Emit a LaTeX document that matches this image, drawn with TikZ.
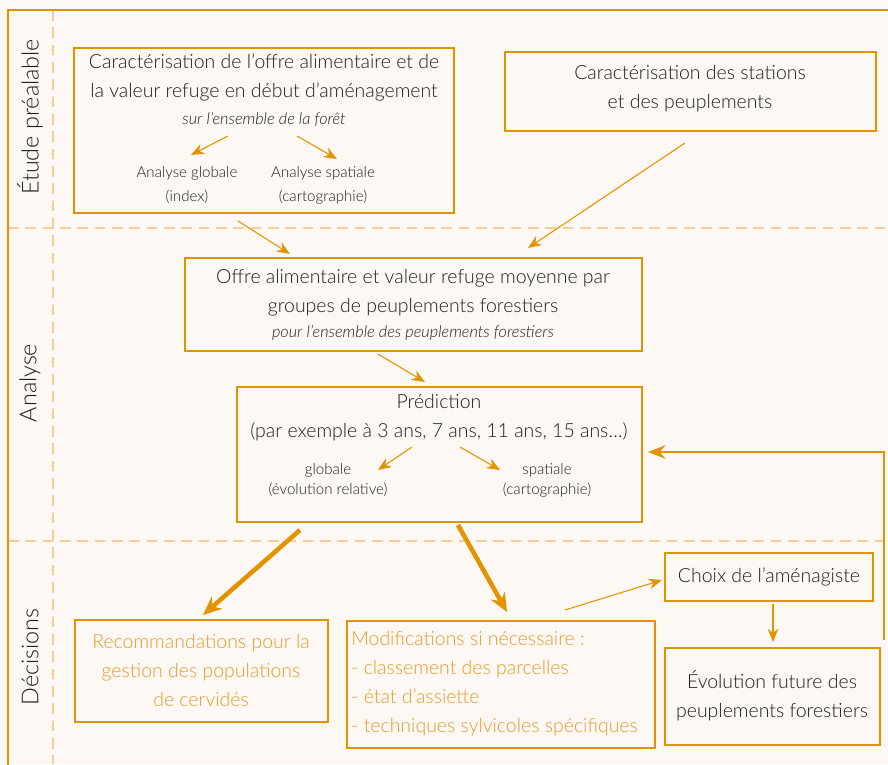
\documentclass[tikz,border=0pt]{standalone}
\usepackage{fontspec}
\setmainfont{Lato}[UprightFont=* Light, ItalicFont=* Light Italic]
\usetikzlibrary{arrows.meta}
\definecolor{bgc}{RGB}{253,248,244}
\definecolor{boxc}{RGB}{227,147,0}
\definecolor{dashc}{RGB}{246,205,150}
\definecolor{txtc}{RGB}{30,30,30}
\definecolor{otxt}{RGB}{230,155,40}
\tikzset{
  box/.style={draw=boxc, line width=2.2pt, inner sep=0pt},
  txt/.style={text=txtc, font=\fontsize{14.6}{21.75}\selectfont, align=center, inner sep=0pt},
  otext/.style={txt, text=otxt},
  smalltxt/.style={text=txtc, font=\fontsize{11.3}{18}\selectfont, align=center, inner sep=0pt},
  itxt/.style={text=txtc, font=\fontsize{12.2}{14}\selectfont\itshape, inner sep=0pt},
  rowlab/.style={text=txtc, font=\fontsize{17.5}{19}\selectfont, rotate=90, inner sep=0pt},
  sep/.style={draw=dashc, line width=2.2pt, dash pattern=on 8pt off 5pt},
  arr/.style={draw=boxc, line width=0.8pt, -{Stealth[length=10pt,width=8pt]}},
  bigarr/.style={draw=boxc, line width=3.4pt, -{Stealth[length=14pt,width=12pt]}},
}
\begin{document}
\begin{tikzpicture}[x=0.75pt,y=-0.75pt]
\fill[bgc] (0,0) rectangle (888,764);
\useasboundingbox (0,0) rectangle (888,764);
\begin{scope}
\clip (0,0) rectangle (888,764);
% frame and separators
\draw[sep] (53,10) -- (53,764);
\draw[sep] (8,228) -- (888,228);
\draw[sep] (8,541) -- (888,541);
\draw[draw=boxc, line width=2.2pt] (8,775) -- (8,10) -- (895,10);
\end{scope}

% row labels
\node[rowlab] (r1) at (30,117) {Étude préalable};
\node[rowlab] (r2) at (30,383) {Analyse};
\node[rowlab] (r3) at (30,657) {Décisions};

% Box A
\node[box, minimum width=380*0.75pt, minimum height=165*0.75pt] (A) at (264,130.5) {};
\node[txt] (Atxt) at (264,77.5) {Caractérisation de l’offre alimentaire et de\\la valeur refuge en début d’aménagement};
\node[itxt] (Ait) at (264,120) {sur l’ensemble de la forêt};
\node[smalltxt] (Ag) at (187,185) {Analyse globale\\(index)};
\node[smalltxt] (As) at (323,185) {Analyse spatiale\\(cartographie)};
\coordinate (Ag0) at (228,136); \coordinate (Ag1) at (191,155);
\coordinate (As0) at (297,136); \coordinate (As1) at (337,159);
\draw[arr] (Ag0) -- (Ag1);
\draw[arr] (As0) -- (As1);

% Box B
\node[box, minimum width=371*0.75pt, minimum height=79*0.75pt] (B) at (690.5,91.5) {};
\node[txt] (Btxt) at (690,89) {Caractérisation des stations\\et des peuplements};

% Box C
\node[box, minimum width=457*0.75pt, minimum height=93*0.75pt] (C) at (413.5,304.5) {};
\node[txt] (Ctxt) at (413,292.5) {Offre alimentaire et valeur refuge moyenne par\\groupes de peuplements forestiers};
\node[itxt] (Cit) at (413,333) {pour l’ensemble des peuplements forestiers};

% Box D
\node[box, minimum width=405*0.75pt, minimum height=135*0.75pt] (D) at (439.5,454.5) {};
\node[txt] (Dtxt) at (439,418) {Prédiction\\(par exemple à 3 ans, 7 ans, 11 ans, 15 ans…)};
\node[smalltxt, font=\fontsize{11.3}{15}\selectfont] (Dg) at (328,480) {globale\\(évolution relative)};
\node[smalltxt, font=\fontsize{11.3}{15}\selectfont] (Ds) at (547,480) {spatiale\\(cartographie)};
\coordinate (Dg0) at (412,447); \coordinate (Dg1) at (378,470);
\coordinate (Ds0) at (460,447); \coordinate (Ds1) at (500,470);
\draw[arr] (Dg0) -- (Dg1);
\draw[arr] (Ds0) -- (Ds1);

% Box E
\node[box, minimum width=253*0.75pt, minimum height=102*0.75pt] (E) at (201.5,671) {};
\node[otext] (Etxt) at (201,670.5) {Recommandations pour la\\gestion des populations\\de cervidés};

% Box F
\node[box, minimum width=308*0.75pt, minimum height=127*0.75pt] (F) at (501,684.5) {};
\node[otext, align=left, anchor=west] (Ftxt) at (351,683.5) {Modifications si nécessaire :\\- classement des parcelles\\- état d’assiette\\- techniques sylvicoles spécifiques};

% Box G
\node[box, minimum width=208*0.75pt, minimum height=48*0.75pt] (G) at (769,577) {};
\node[txt] (Gtxt) at (769,577) {Choix de l’aménagiste};

% Box H
\node[box, minimum width=215*0.75pt, minimum height=97*0.75pt] (H) at (772.5,696.5) {};
\node[txt] (Htxt) at (772,696) {Évolution future des\\peuplements forestiers};

% connectors
\coordinate (A0) at (238,221); \coordinate (C0) at (290,254);
\draw[arr] (A0) -- (C0);
\coordinate (B0) at (685,143); \coordinate (C1) at (528,248);
\draw[arr] (B0) -- (C1);
\coordinate (C2) at (378,354); \coordinate (D0) at (425,382);
\draw[arr] (C2) -- (D0);
\coordinate (D1) at (300,530); \coordinate (E0) at (203,615);
\draw[bigarr] (D1) -- (E0);
\coordinate (D2) at (458,525); \coordinate (F0) at (507,612);
\draw[bigarr] (D2) -- (F0);
\coordinate (F1) at (565,610); \coordinate (G0) at (662,580);
\draw[arr] (F1) -- (G0);
\coordinate (G1) at (773,604); \coordinate (H0) at (773,642);
\draw[arr] (G1) -- (H0);
\coordinate (H1) at (884,640); \coordinate (K) at (884,452); \coordinate (D3) at (648,452);
\draw[draw=boxc, line width=2pt, -{Stealth[length=13pt,width=10pt]}] (H1) -- (K) -- (D3);
\end{tikzpicture}
\end{document}
